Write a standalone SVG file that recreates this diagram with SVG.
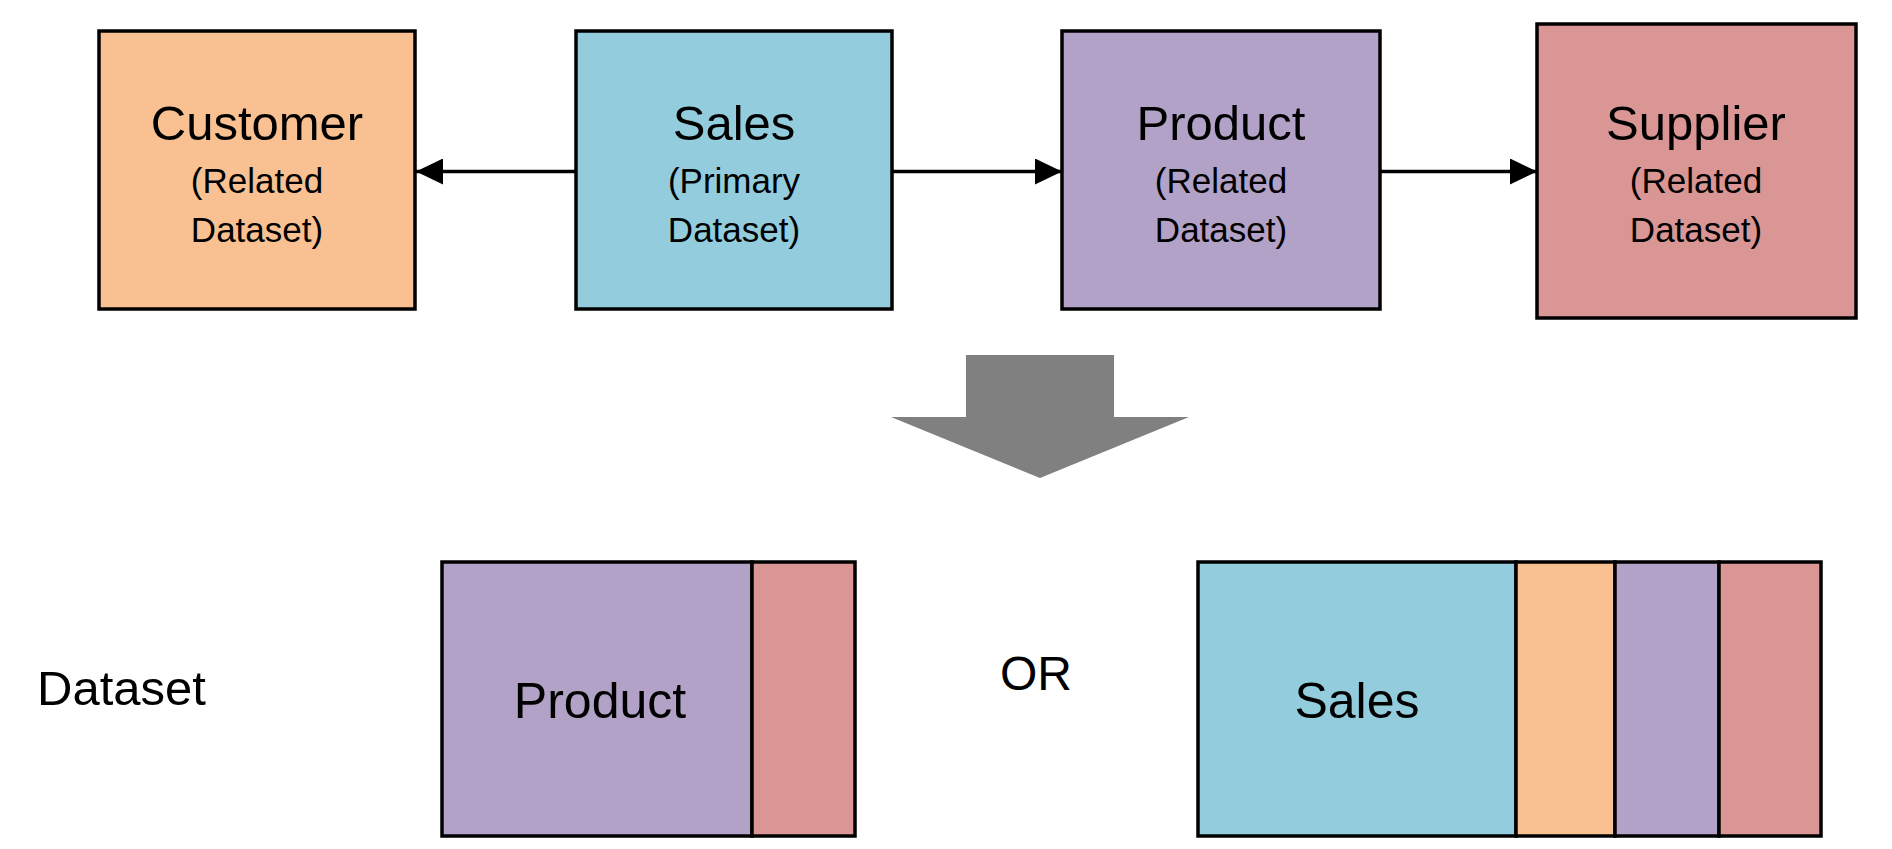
<svg xmlns="http://www.w3.org/2000/svg" width="1892" height="849" viewBox="0 0 1892 849">
<style>
.box{stroke:#000;stroke-width:3.5}
.t{font-family:"Liberation Sans",Arial,sans-serif;fill:#000;text-anchor:middle}
.big{font-size:49px}
.small{font-size:35px}
.conn{stroke:#000;stroke-width:3.5;fill:none}
.cust{fill:#F9C091}
.sales{fill:#93CDDD}
.prod{fill:#B3A2C7}
.supp{fill:#D99694}
</style>
<defs>
<marker id="ah" viewBox="0 0 27 26" refX="27" refY="13" markerWidth="27" markerHeight="26" markerUnits="userSpaceOnUse" orient="auto">
<path d="M0,0 L27,13 L0,26 Z" fill="#000"/>
</marker>
</defs>
<rect width="1892" height="849" fill="#fff"/>
<g id="customer">
<rect class="box cust" x="99" y="31" width="316" height="278"/>
<text class="t big" x="257" y="140">Customer</text>
<text class="t small" x="257" y="193">(Related</text>
<text class="t small" x="257" y="242">Dataset)</text>
</g>
<g id="sales">
<rect class="box sales" x="576" y="31" width="316" height="278"/>
<text class="t big" x="734" y="140">Sales</text>
<text class="t small" x="734" y="193">(Primary</text>
<text class="t small" x="734" y="242">Dataset)</text>
</g>
<g id="product">
<rect class="box prod" x="1062" y="31" width="318" height="278"/>
<text class="t big" x="1221" y="140">Product</text>
<text class="t small" x="1221" y="193">(Related</text>
<text class="t small" x="1221" y="242">Dataset)</text>
</g>
<g id="supplier">
<rect class="box supp" x="1537" y="24" width="319" height="294"/>
<text class="t big" x="1696" y="140">Supplier</text>
<text class="t small" x="1696" y="193">(Related</text>
<text class="t small" x="1696" y="242">Dataset)</text>
</g>
<g id="connectors">
<line class="conn" x1="576" y1="171.5" x2="416" y2="171.5" marker-end="url(#ah)"/>
<line class="conn" x1="892" y1="171.5" x2="1062" y2="171.5" marker-end="url(#ah)"/>
<line class="conn" x1="1380" y1="171.5" x2="1537" y2="171.5" marker-end="url(#ah)"/>
</g>
<g id="big-arrow">
<polygon points="966,355 1114,355 1114,417 1189,417 1040,478 891,417 966,417" fill="#808080"/>
</g>
<g id="dataset-label">
<text x="37" y="705" font-family="Liberation Sans, Arial, sans-serif" font-size="49" fill="#000">Dataset</text>
</g>
<g id="or-label">
<text x="1036" y="690" class="t" font-size="48">OR</text>
</g>
<g id="result-product">
<rect class="box prod" x="442" y="562" width="310" height="274"/>
<rect class="box supp" x="752" y="562" width="103" height="274"/>
<text class="t" font-size="50" x="600" y="718">Product</text>
</g>
<g id="result-sales">
<rect class="box sales" x="1198" y="562" width="318" height="274"/>
<rect class="box cust" x="1516" y="562" width="99" height="274"/>
<rect class="box prod" x="1615" y="562" width="104" height="274"/>
<rect class="box supp" x="1719" y="562" width="102" height="274"/>
<text class="t" font-size="50" x="1357" y="718">Sales</text>
</g>
</svg>
